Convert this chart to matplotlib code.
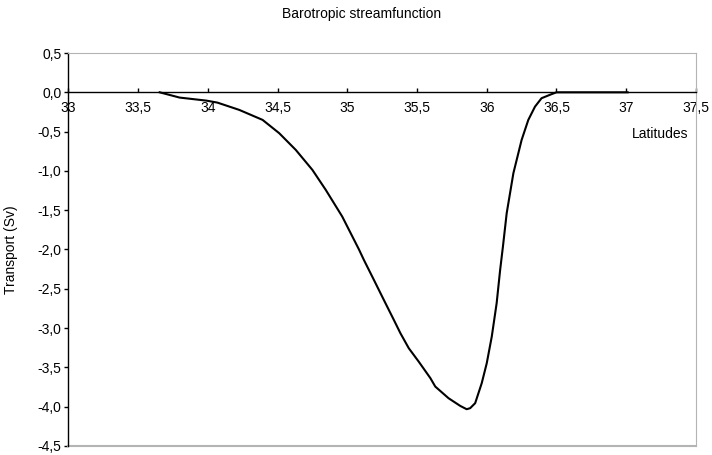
import matplotlib
matplotlib.use("Agg")
import matplotlib.pyplot as plt
from matplotlib.ticker import FuncFormatter

# Latitude (deg N) and barotropic transport (Sv)
latitudes = [33.655, 33.798, 33.991, 34.069, 34.226, 34.393, 34.512, 34.631,
             34.750, 34.846, 34.964, 35.084, 35.119, 35.191, 35.262, 35.334,
             35.381, 35.441, 35.512, 35.596, 35.631, 35.726, 35.810, 35.856,
             35.881, 35.917, 35.964, 36.000, 36.036, 36.071, 36.096, 36.116,
             36.143, 36.191, 36.250, 36.298, 36.346, 36.393, 36.464, 36.500,
             37.010]
transport = [0.0, -0.067, -0.106, -0.131, -0.224, -0.351, -0.520, -0.733,
             -0.987, -1.242, -1.581, -2.000, -2.132, -2.387, -2.641, -2.896,
             -3.065, -3.256, -3.426, -3.637, -3.744, -3.892, -3.990, -4.032,
             -4.019, -3.955, -3.701, -3.447, -3.108, -2.683, -2.260, -1.963,
             -1.538, -1.029, -0.606, -0.351, -0.182, -0.075, -0.024, 0.0,
             0.0]

x_ticks = [33, 33.5, 34, 34.5, 35, 35.5, 36, 36.5, 37, 37.5]
y_ticks = [0.5, 0.0, -0.5, -1.0, -1.5, -2.0, -2.5, -3.0, -3.5, -4.0, -4.5]

plt.rcParams['font.family'] = ['Liberation Sans', 'DejaVu Sans']

fig = plt.figure(figsize=(7.12, 4.55), dpi=100)
ax = fig.add_axes([0.0959, 0.0198, 0.8816, 0.8637])

ax.plot(latitudes, transport, color='black', linewidth=1.5)

ax.set_xlim(33, 37.5)
ax.set_ylim(-4.5, 0.5)
ax.set_xticks(x_ticks)
ax.set_yticks(y_ticks)

# decimal comma, like the original spreadsheet
ax.xaxis.set_major_formatter(FuncFormatter(lambda v, p: ('%g' % v).replace('.', ',')))
ax.yaxis.set_major_formatter(FuncFormatter(lambda v, p: ('%.1f' % v).replace('.', ',')))

# x axis crosses at zero
border = '#b4b4b4'
ax.spines['bottom'].set_position(('data', 0))
ax.spines['bottom'].set_color('black')
ax.spines['bottom'].set_linewidth(1.0)
ax.spines['left'].set_color('black')
ax.spines['left'].set_linewidth(1.0)
ax.spines['top'].set_color(border)
ax.spines['right'].set_color(border)
ax.plot([0, 1], [0, 0], transform=ax.transAxes, color=border, linewidth=1.5,
        clip_on=False)

ax.tick_params(axis='x', direction='in', length=3, width=1, pad=6,
               labelsize=10, colors='black')
ax.tick_params(axis='y', direction='out', length=3, width=1, pad=2,
               labelsize=10, colors='black')

ax.set_ylabel('Transport (Sv)', fontsize=10)
ax.yaxis.set_label_coords(-0.080, 0.5)
ax.set_xlabel('Latitudes', fontsize=10, va='center')
ax.xaxis.set_label_coords(0.9427, 0.794)

fig.text(361.7 / 712, 1 - 14 / 455, 'Barotropic streamfunction',
         ha='center', va='center', fontsize=10)

fig.savefig('out.png', dpi=100)
